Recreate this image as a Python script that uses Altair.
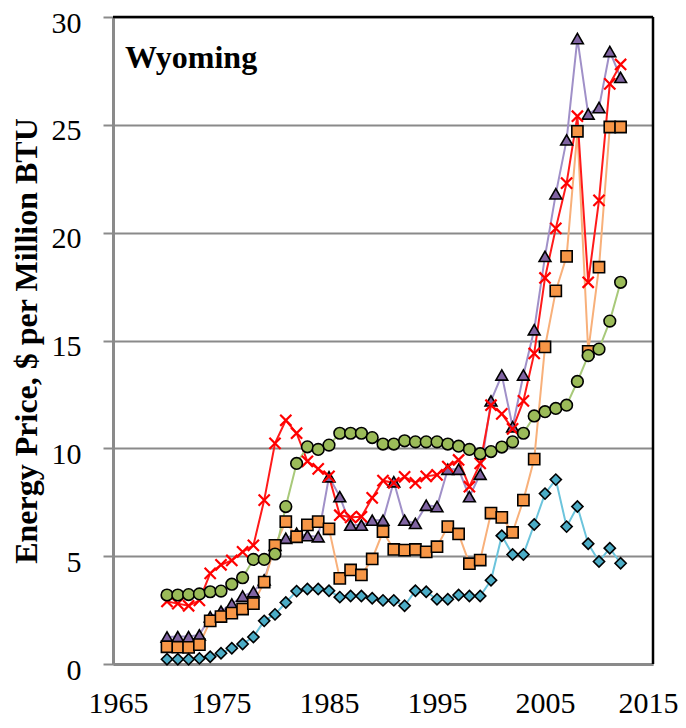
import altair as alt
import pandas as pd

years = list(range(1970, 2013))

purple = [1.25, 1.27, 1.27, 1.35, 2.19, 2.45, 2.78, 3.15, 3.35, 3.9,
          5.5, 5.83, 6.06, 5.95, 5.9, 8.68, 7.76, 6.44, 6.44, 6.67,
          6.67, 8.45, 6.67, 6.52, 7.36, 7.3, 9.03, 9.03, 7.76, 8.8,
          12.2, 13.4, 11.0, 13.4, 15.5, 18.9, 21.8, 24.3, 29.0, 25.5,
          25.8, 28.4, 27.2]
orange = [0.8, 0.78, 0.77, 0.9, 2.0, 2.2, 2.36, 2.55, 2.8, 3.8,
          5.5, 6.6, 5.9, 6.45, 6.6, 6.27, 3.97, 4.36, 4.13, 4.87,
          6.14, 5.31, 5.28, 5.31, 5.2, 5.44, 6.37, 6.03, 4.65, 4.82,
          7.0, 6.8, 6.1, 7.6, 9.5, 14.7, 17.3, 18.9, 24.7, 14.5,
          18.4, 24.9, 24.9]
red = [2.9, 2.8, 2.7, 2.95, 4.2, 4.6, 4.8, 5.2, 5.5, 7.6,
       10.23, 11.3, 10.7, 9.4, 9.05, 8.7, 6.9, 6.8, 6.83, 7.7,
       8.5, 8.4, 8.68, 8.4, 8.7, 8.77, 9.15, 9.46, 8.22, 9.3,
       12.0, 11.6, 10.9, 12.2, 14.4, 17.9, 20.2, 22.3, 25.4, 17.7,
       21.5, 26.9, 27.8]
green = [3.2, 3.2, 3.22, 3.25, 3.35, 3.38, 3.7, 4.0, 4.85, 4.85,
         5.1, 7.3, 9.3, 10.07, 9.95, 10.15, 10.7, 10.7, 10.7, 10.5,
         10.2, 10.2, 10.35, 10.3, 10.3, 10.3, 10.2, 10.1, 9.95, 9.75,
         9.85, 10.06, 10.3, 10.7, 11.5, 11.7, 11.85, 12.0, 13.1, 14.3,
         14.6, 15.9, 17.7]
teal = [0.22, 0.22, 0.22, 0.26, 0.34, 0.5, 0.73, 0.93, 1.25, 2.0,
        2.3, 2.85, 3.38, 3.48, 3.48, 3.4, 3.1, 3.15, 3.15, 3.05,
        2.95, 2.95, 2.7, 3.4, 3.35, 3.0, 3.0, 3.2, 3.15, 3.15,
        3.88, 5.95, 5.08, 5.08, 6.47, 7.9, 8.55, 6.37, 7.3, 5.58,
        4.75, 5.37, 4.67]

x_ticks = [1965, 1975, 1985, 1995, 2005, 2015]
y_ticks = [0, 5, 10, 15, 20, 25, 30]

# name, values, line colour, marker fill, shape, size, black outline
series = [
    ("Series 1", purple, "#a090c8", "#8064a2", "triangle-up", 140, True),
    ("Series 2", orange, "#f8b07a", "#f79646", "square", 125, True),
    ("Series 3", red, "#ff1a1a", "#ff0000", "M-1,-1L1,1M-1,1L1,-1", 125, False),
    ("Series 4", green, "#a8c97a", "#9bbb59", "circle", 135, True),
    ("Series 5", teal, "#6cc4dc", "#4bacc6", "diamond", 125, True),
]

rows = []
for name, vals, *_ in series:
    for yr, v in zip(years, vals):
        rows.append({"year": yr, "value": v, "series": name})
df = pd.DataFrame(rows)

GREY = "#8a8a8a"
FONT = "Liberation Serif"

x_enc = alt.X("year:Q",
              scale=alt.Scale(domain=[1965, 2015], nice=False, zero=False),
              axis=alt.Axis(values=x_ticks, format="d", title=None, grid=False,
                            ticks=False, domainColor=GREY, domainWidth=3,
                            labelFont=FONT, labelFontSize=30, labelColor="black",
                            labelPadding=48, labelBaseline="alphabetic",
                            labelFlush=True, labelFlushOffset=25,
                            labelOverlap=False))
y_enc = alt.Y("value:Q",
              scale=alt.Scale(domain=[0, 30], nice=False),
              axis=alt.Axis(values=y_ticks, grid=True, gridColor=GREY, gridWidth=2,
                            domainColor=GREY, domainWidth=3, tickColor=GREY,
                            tickWidth=2, tickSize=10, labelPadding=22,
                            labelOffset=6,
                            labelFont=FONT, labelFontSize=30, labelColor="black",
                            labelFlush=False, labelOverlap=False,
                            title="Energy Price, $ per Million BTU",
                            titleFont=FONT, titleFontSize=32, titleFontWeight="bold",
                            titleColor="black", titleAngle=270, titleX=-77,
                            titleBaseline="alphabetic"))

layers = []
for name, vals, lc, fc, shape, size, outlined in series:
    sub = df[df["series"] == name]
    base = alt.Chart(sub)
    layers.append(base.mark_line(color=lc, strokeWidth=2).encode(x=x_enc, y=y_enc))
for name, vals, lc, fc, shape, size, outlined in series:
    sub = df[df["series"] == name]
    base = alt.Chart(sub)
    if outlined:
        pts = base.mark_point(shape=shape, filled=True, fill=fc, stroke="black",
                              strokeWidth=1.6, size=size, opacity=1)
    else:
        pts = base.mark_point(shape=shape, filled=False, stroke=fc,
                              strokeWidth=2.2, size=size, opacity=1)
    layers.append(pts.encode(x=x_enc, y=y_enc))

top_border = alt.Chart(pd.DataFrame({"value": [30]})).mark_rule(
    color="black", strokeWidth=2.5).encode(y=alt.Y("value:Q"))
right_border = alt.Chart(pd.DataFrame({"year": [2015]})).mark_rule(
    color="black", strokeWidth=2.5).encode(x=alt.X("year:Q"))

label = alt.Chart(pd.DataFrame({"t": ["Wyoming"]})).mark_text(
    font=FONT, fontSize=32, fontWeight="bold", align="left",
    baseline="alphabetic", color="black").encode(
    text="t:N", x=alt.value(12), y=alt.value(51))

chart = alt.layer(top_border, right_border, *layers, label).properties(
    width=540, height=647,
    autosize=alt.AutoSizeParams(type="none"),
    padding={"left": 105, "top": 9, "right": 25, "bottom": 55},
    background="white",
).configure_view(strokeWidth=0)

chart.save("out.html", embed_options={"renderer": "svg", "actions": False})
